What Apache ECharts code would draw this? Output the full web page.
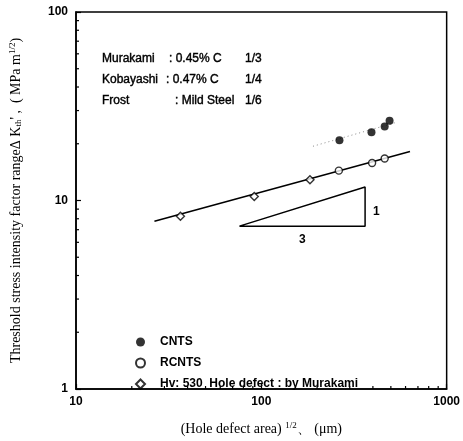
<!DOCTYPE html>
<html>
<head>
<meta charset="utf-8">
<script src="https://cdn.jsdelivr.net/npm/echarts@6/dist/echarts.min.js"></script>
<style>
  html, body { margin: 0; padding: 0; background: #fff; }
  #chart { width: 463px; height: 441px; }
</style>
</head>
<body>
<div id="chart"></div>
<script>
  // values (log-log)
  var cntsX = [264, 393, 463, 492];
  var cntsY = [20.9, 23.0, 24.7, 26.5];
  var rcntsX = [262, 396, 463];
  var rcntsY = [14.4, 15.8, 16.7];
  var holeX = [36.6, 91.6, 183];
  var holeY = [8.25, 10.5, 12.9];
  var fitX = [26.5, 634];
  var fitY = [7.76, 18.2];
  var cntsTrendX = [190, 530];
  var cntsTrendY = [19.4, 25.9];
  var slopeX = [76.2, 363, 363, 76.2];
  var slopeY = [7.31, 11.8, 7.31, 7.31];
  var xMinorTicks = [20, 30, 40, 50, 60, 70, 80, 90, 200, 300, 400, 500, 600, 700, 800, 900];
  var yMinorTicks = [2, 3, 4, 5, 6, 7, 8, 9, 20, 30, 40, 50, 60, 70, 80, 90];
  var notes = [
    ['Murakami', ': 0.45% C', '1/3'],
    ['Kobayashi', ': 0.47% C', '1/4'],
    ['Frost', ': Mild Steel', '1/6']
  ];

  function pairs(xs, ys) {
    return xs.map(function (x, i) { return [x, ys[i]]; });
  }

  var sans = '"Liberation Sans", Arial, sans-serif';
  var serif = '"Liberation Serif", "Times New Roman", serif';

  var chart = echarts.init(document.getElementById('chart'));

  var graphics = [];
  var noteCols = [[102, 102, 102], [169, 166, 175], [245, 245, 245]];
  notes.forEach(function (row, r) {
    row.forEach(function (txt, c) {
      graphics.push({
        type: 'text',
        style: {
          x: noteCols[c][r], y: 59 + r * 21, text: txt,
          font: '12px ' + sans, fill: '#000', verticalAlign: 'middle',
          stroke: '#000', lineWidth: 0.4
        }
      });
    });
  });
  graphics.push({ type: 'text', style: { x: 373, y: 212, text: '1', font: 'bold 12px ' + sans, fill: '#000', verticalAlign: 'middle' } });
  graphics.push({ type: 'text', style: { x: 299, y: 240, text: '3', font: 'bold 12px ' + sans, fill: '#000', verticalAlign: 'middle' } });

  function tickSeries(values, isX) {
    return {
      type: 'custom',
      silent: true,
      z: 1,
      data: values.map(function (v) { return isX ? [v, 1] : [10, v]; }),
      renderItem: function (params, api) {
        var p = api.coord([api.value(0), api.value(1)]);
        return {
          type: 'line',
          shape: isX ? { x1: p[0], y1: p[1], x2: p[0], y2: p[1] - 3 }
                     : { x1: p[0], y1: p[1], x2: p[0] + 3, y2: p[1] },
          style: { stroke: '#000', lineWidth: 1.2 }
        };
      }
    };
  }

  var option = {
    backgroundColor: '#fff',
    animation: false,
    grid: {
      left: 72, right: 14, top: 12, bottom: 47,
      show: true, borderColor: '#000', borderWidth: 1.5
    },
    legend: {
      orient: 'vertical',
      left: 130, top: 331,
      itemWidth: 9, itemHeight: 9, itemGap: 9,
      data: ['CNTS', 'RCNTS', 'Hv: 530  Hole defect : by Murakami'],
      textStyle: { color: '#000', fontSize: 12, fontFamily: sans, fontWeight: 'bold', padding: [0, 0, 0, 10] }
    },
    graphic: graphics,
    xAxis: {
      type: 'log', logBase: 10, min: 10, max: 1000,
      name: '(Hole defect area) {sup|1/2}\u3001 (\u03bcm)',
      nameLocation: 'middle', nameGap: 32,
      nameTextStyle: {
        color: '#000', fontSize: 14, fontFamily: serif,
        rich: { sup: { fontSize: 9, fontFamily: serif, color: '#000', padding: [0, 0, 7, 0] } }
      },
      axisLine: { lineStyle: { color: '#000', width: 1.5 } },
      axisTick: { inside: true, length: 5, lineStyle: { color: '#000', width: 1.2 } },
      axisLabel: {
        color: '#000', fontSize: 12, fontWeight: 'bold', fontFamily: sans, margin: 7,
        formatter: function (v) { return String(v); }
      },
      splitLine: { show: false }
    },
    yAxis: {
      type: 'log', logBase: 10, min: 1, max: 100,
      name: 'Threshold stress intensity factor range\u0394 K{sub|th}\' ,  ( MPa m{sup|1/2})',
      nameLocation: 'middle', nameGap: 52,
      nameTextStyle: {
        color: '#000', fontSize: 14, fontFamily: serif,
        rich: {
          sub: { fontSize: 9, fontFamily: serif, color: '#000', padding: [6, 0, 0, 0] },
          sup: { fontSize: 9, fontFamily: serif, color: '#000', padding: [0, 0, 7, 0] }
        }
      },
      axisLine: { lineStyle: { color: '#000', width: 1.5 } },
      axisTick: { inside: true, length: 5, lineStyle: { color: '#000', width: 1.2 } },
      axisLabel: {
        color: '#000', fontSize: 12, fontWeight: 'bold', fontFamily: sans, margin: 8,
        formatter: function (v) { return String(v); }
      },
      splitLine: { show: false }
    },
    series: [
      {
        name: 'fit',
        type: 'line',
        data: pairs(fitX, fitY),
        symbol: 'none',
        lineStyle: { color: '#000', width: 1.6 },
        z: 2
      },
      {
        name: 'cnts trend',
        type: 'line',
        data: pairs(cntsTrendX, cntsTrendY),
        symbol: 'none',
        lineStyle: { color: '#888', width: 1, type: [1, 3] },
        z: 2
      },
      {
        name: 'slope',
        type: 'line',
        data: pairs(slopeX, slopeY),
        symbol: 'none',
        lineStyle: { color: '#000', width: 1.5 },
        z: 2
      },
      {
        name: 'CNTS',
        type: 'scatter',
        data: pairs(cntsX, cntsY),
        symbol: 'circle',
        symbolSize: 8,
        itemStyle: { color: '#000' },
        z: 3
      },
      {
        name: 'RCNTS',
        type: 'scatter',
        data: pairs(rcntsX, rcntsY),
        symbol: 'circle',
        symbolSize: 7,
        itemStyle: { color: '#fff', borderColor: '#000', borderWidth: 1.4 },
        z: 3
      },
      {
        name: 'Hv: 530  Hole defect : by Murakami',
        type: 'scatter',
        data: pairs(holeX, holeY),
        symbol: 'diamond',
        symbolSize: 8,
        itemStyle: { color: '#fff', borderColor: '#000', borderWidth: 1.4 },
        z: 3
      },
      tickSeries(xMinorTicks, true),
      tickSeries(yMinorTicks, false)
    ]
  };

  chart.setOption(option);
</script>
</body>
</html>
